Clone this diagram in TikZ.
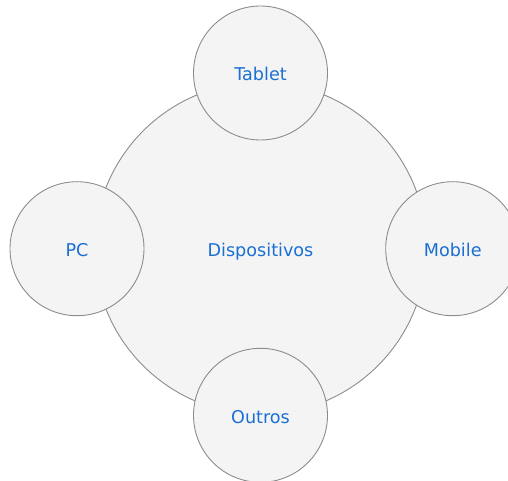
\documentclass[tikz,border=0pt]{standalone}
\usepackage{fontspec}
\setmainfont{DejaVu Sans}
\usepackage{xcolor}
\usepackage{tikz}
\usetikzlibrary{shapes.geometric, positioning}

\definecolor{circleFill}{HTML}{F4F4F4}
\definecolor{circleLine}{HTML}{8C8C8C}
\definecolor{labelBlue}{HTML}{1A6FD4}

\begin{document}
\begin{tikzpicture}[x=1bp, y=-1bp, every node/.style = {shape=circle, fill=circleFill, draw=circleLine, line width=0.9bp, inner sep=0pt, minimum size=134bp, text=labelBlue, text height=15.4bp, text depth=0pt, font=\fontsize{17.6bp}{20bp}\selectfont},]

\useasboundingbox (0,0) rectangle (508,481);

\node (dispositivos) [minimum size=332bp] at (260.5,248.3) {Dispositivos};
\node (tablet) at (260.5,73) {Tablet};
\node (pc) at (77,248.7) {PC};
\node (mobile) at (452.7,248.7) {Mobile};
\node (outros) at (260.5,415.3) {Outros};
\end{tikzpicture}
\end{document}
